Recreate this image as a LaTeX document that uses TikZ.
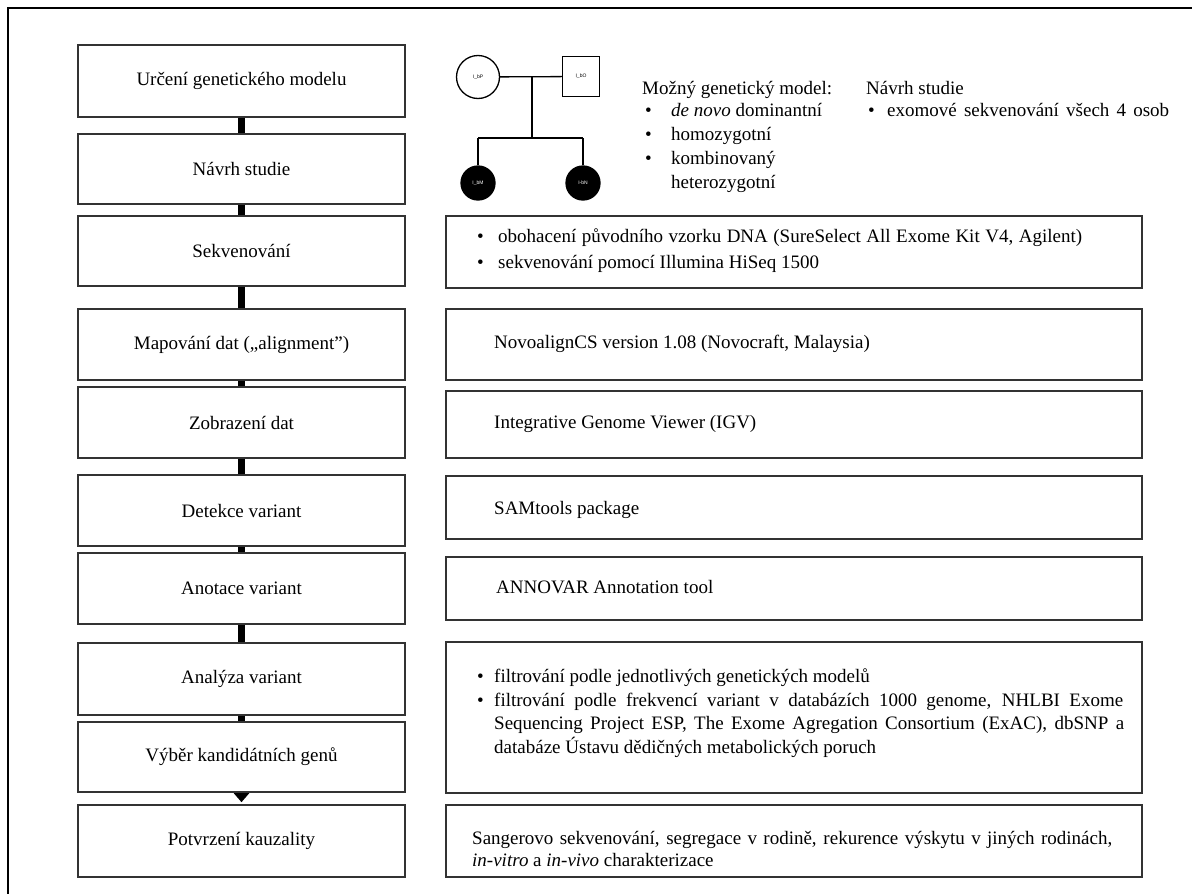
\documentclass[tikz,border=0pt]{standalone}
\usepackage{fontspec}
\setmainfont{Liberation Serif}
\newfontfamily\pedfont{Liberation Sans}
\usetikzlibrary{arrows.meta}
\begin{document}
\begin{tikzpicture}[x=1pt,y=-1pt,
  flowbox/.style={draw=black!80, line width=1.6pt, inner sep=0pt, font=\fontsize{19}{23}\selectfont},
  lbox/.style={flowbox, minimum width=327pt},
  rbox/.style={flowbox, minimum width=696pt},
  txt/.style={anchor=base west, inner sep=0pt, font=\fontsize{19}{23}\selectfont},
  bar/.style={line width=6.5pt, black},
  pedline/.style={line width=1.3pt, black},
  pedlabel/.style={font=\pedfont\fontsize{5}{6}\selectfont, inner sep=0pt},
  frameline/.style={line width=1.3pt, black}]
\useasboundingbox (0,0) rectangle (1192,894);
% outer frame
\draw[frameline] (8,894) -- (8,8) -- (1192,8);

% left column
\node[lbox, minimum height=72pt] (b1) at (241.5,81) {Určení genetického modelu};
\node[lbox, minimum height=70pt] (b2) at (241.5,169) {Návrh studie};
\node[lbox, minimum height=70pt] (b3) at (241.5,251) {Sekvenování};
\node[lbox, minimum height=71pt] (b4) at (241.5,344.5) {Mapování dat („alignment”)};
\node[lbox, minimum height=71pt] (b5) at (241.5,422.5) {Zobrazení dat};
\node[lbox, minimum height=71pt] (b6) at (241.5,510.5) {Detekce variant};
\node[lbox, minimum height=71pt] (b7) at (241.5,588.5) {Anotace variant};
\node[lbox, minimum height=72pt] (b8) at (241.5,679) {Analýza variant};
\node[lbox, minimum height=70pt] (b9) at (241.5,757) {Výběr kandidátních genů};
\node[lbox, minimum height=72pt] (b10) at (241.5,841) {Potvrzení kauzality};

\draw[bar] (b1.south) -- (b2.north);
\draw[bar] (b2.south) -- (b3.north);
\draw[bar] (b3.south) -- (b4.north);
\draw[bar] (b4.south) -- (b5.north);
\draw[bar] (b5.south) -- (b6.north);
\draw[bar] (b6.south) -- (b7.north);
\draw[bar] (b7.south) -- (b8.north);
\draw[bar] (b8.south) -- (b9.north);
\draw[line width=2pt, -{Triangle[width=15pt,length=9pt]}, shorten >=2pt] (b9.south) -- (b10.north);

% pedigree
\node[circle, draw, pedline, minimum size=43pt, pedlabel] (ibp) at (478,77) {I\_bP};
\node[rectangle, draw, pedline, minimum width=37pt, minimum height=40pt, pedlabel] (ibo) at (581,76.5) {I\_bO};
\coordinate (mid) at (532,77);
\coordinate (sib) at (532,138);
\coordinate (sl) at (478,138);
\coordinate (sr) at (583,138);
\node[circle, draw, fill=black, pedline, minimum size=34pt, pedlabel, text=white] (ibm) at (478,183) {I\_bM};
\node[circle, draw, fill=black, pedline, minimum size=34pt, pedlabel, text=white] (ibn) at (583,183) {I-bN};
\draw[pedline] (ibp) -- (ibo);
\draw[pedline] (mid) -- (sib);
\draw[pedline] (sl) -- (sr);
\draw[pedline] (sl) -- (ibm);
\draw[pedline] (sr) -- (ibn);

% genetic model text
\node[txt] (gm) at (642,94) {Možný genetický model:};
\node[txt] (gmb1) at (645,116) {•};
\node[txt] (gm1) at (671,116) {\textit{de novo} dominantní};
\node[txt] (gmb2) at (645,140) {•};
\node[txt] (gm2) at (671,140) {homozygotní};
\node[txt] (gmb3) at (645,164) {•};
\node[txt] (gm3) at (671,164) {kombinovaný};
\node[txt] (gm4) at (671,188) {heterozygotní};
\node[txt] (ns) at (866,94) {Návrh studie};
\node[txt] (nsb) at (868,116) {•};
\node[txt] (ns1) at (887,116) {\makebox[282pt][s]{exomové sekvenování všech 4 osob}};

% right column boxes
\node[rbox, minimum height=72pt] (r3) at (794,252) {};
\node[rbox, minimum height=71pt] (r4) at (794,344.5) {};
\node[rbox, minimum height=67pt] (r5) at (794,424.5) {};
\node[rbox, minimum height=63pt] (r6) at (794,507.5) {};
\node[rbox, minimum height=63pt] (r7) at (794,588.5) {};
\node[rbox, minimum height=151pt] (r8) at (794,717.5) {};
\node[rbox, minimum height=72pt] (r9) at (794,841) {};

\node[txt] (r3b1) at (477,242) {•};
\node[txt] (r3t1) at (498,242) {\makebox[584pt][s]{obohacení původního vzorku DNA (SureSelect All Exome Kit V4, Agilent)}};
\node[txt] (r3b2) at (477,268) {•};
\node[txt] (r3t2) at (498,268) {sekvenování pomocí Illumina HiSeq 1500};
\node[txt] (r4t) at (494,348) {NovoalignCS version 1.08 (Novocraft, Malaysia)};
\node[txt] (r5t) at (494,428) {Integrative Genome Viewer (IGV)};
\node[txt] (r6t) at (494,514) {SAMtools package};
\node[txt] (r7t) at (496,593) {ANNOVAR Annotation tool};
\node[txt] (r8b1) at (477,682) {•};
\node[txt] (r8t1) at (494,682) {filtrování podle jednotlivých genetických modelů};
\node[txt] (r8b2) at (477,706) {•};
\node[txt] (r8t2) at (494,706) {\makebox[629pt][s]{filtrování podle frekvencí variant v databázích 1000 genome, NHLBI Exome}};
\node[txt] (r8t3) at (494,729) {\makebox[630pt][s]{Sequencing Project ESP, The Exome Agregation Consortium (ExAC), dbSNP a}};
\node[txt] (r8t4) at (494,753) {databáze Ústavu dědičných metabolických poruch};
\node[txt] (r9t1) at (472,844) {\makebox[640pt][s]{Sangerovo sekvenování, segregace v rodině, rekurence výskytu v jiných rodinách,}};
\node[txt] (r9t2) at (472,866) {\textit{in-vitro} a \textit{in-vivo} charakterizace};
\end{tikzpicture}
\end{document}
